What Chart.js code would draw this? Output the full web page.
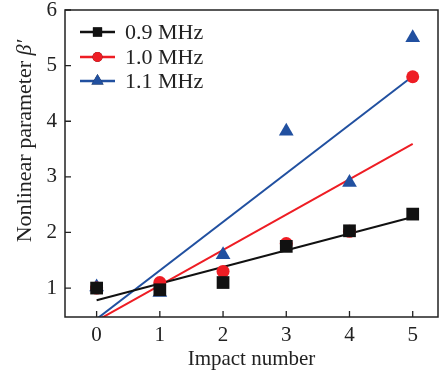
<!DOCTYPE html>
<html>
<head>
<meta charset="utf-8">
<script src="https://cdn.jsdelivr.net/npm/chart.js@4/dist/chart.umd.min.js"></script>
<style>
  html, body { margin: 0; padding: 0; background: #fff; }
  #wrap { width: 439px; height: 372px; }
</style>
</head>
<body>
<div id="wrap"><canvas id="chart"></canvas></div>
<script>
const impacts = [0, 1, 2, 3, 4, 5];
const beta09 = [1.00, 0.97, 1.10, 1.75, 2.03, 2.33];
const beta10 = [1.00, 1.10, 1.30, 1.80, 2.02, 4.80];
const beta11 = [1.02, 0.92, 1.60, 3.82, 2.90, 5.50];
const seriesLabels = ['0.9 MHz', '1.0 MHz', '1.1 MHz'];
const xTicks = [0, 1, 2, 3, 4, 5];
const yTicks = [1, 2, 3, 4, 5, 6];

const colors = ['#111111', '#ee1d24', '#2150a0'];
const shapes = ['rect', 'circle', 'triangle'];
const radii = [9, 6.5, 8.5];
const legendRadii = [6.5, 5, 7];
const FONT = '"Liberation Serif", "Times New Roman", serif';

// least-squares fit line, same as the original linear fits
function fitLine(xs, ys) {
  const n = xs.length;
  const mx = xs.reduce((a, b) => a + b, 0) / n;
  const my = ys.reduce((a, b) => a + b, 0) / n;
  let sxy = 0, sxx = 0;
  xs.forEach((x, i) => { sxy += (x - mx) * (ys[i] - my); sxx += (x - mx) * (x - mx); });
  const k = sxy / sxx, b = my - k * mx;
  return [{ x: xs[0], y: k * xs[0] + b }, { x: xs[n - 1], y: k * xs[n - 1] + b }];
}

const allSeries = [beta09, beta10, beta11];
const datasets = [];
allSeries.forEach((ys, i) => {
  datasets.push({
    label: seriesLabels[i] + ' fit',
    data: fitLine(impacts, ys),
    showLine: true,
    borderColor: colors[i],
    borderWidth: 2,
    pointRadius: 0,
    order: 2
  });
});
allSeries.forEach((ys, i) => {
  datasets.push({
    label: seriesLabels[i],
    data: impacts.map((x, j) => ({ x: x, y: ys[j] })),
    pointStyle: shapes[i],
    pointRadius: radii[i],
    backgroundColor: colors[i],
    borderColor: colors[i],
    borderWidth: 0,
    showLine: false,
    order: 1
  });
});

const extras = {
  id: 'extras',
  afterDraw(chart) {
    const c = chart.ctx;
    const a = chart.chartArea;
    const xs = chart.scales.x, ys = chart.scales.y;
    c.save();
    // frame
    c.strokeStyle = '#222';
    c.lineWidth = 1.5;
    c.strokeRect(a.left, a.top, a.right - a.left, a.bottom - a.top);
    // inward ticks
    c.lineWidth = 1.3;
    c.beginPath();
    xTicks.forEach(v => {
      const px = xs.getPixelForValue(v);
      c.moveTo(px, a.bottom); c.lineTo(px, a.bottom - 6);
    });
    yTicks.forEach(v => {
      const py = ys.getPixelForValue(v);
      c.moveTo(a.left, py); c.lineTo(a.left + 6, py);
    });
    c.stroke();

    // y title with italic beta
    c.fillStyle = '#222';
    c.translate(25, 141);
    c.rotate(-Math.PI / 2);
    c.textBaseline = 'middle';
    const part1 = 'Nonlinear parameter ';
    const part2 = 'β′';
    c.font = '22px ' + FONT;
    const w1 = c.measureText(part1).width;
    c.font = 'italic 22px ' + FONT;
    const w2 = c.measureText(part2).width;
    const start = -(w1 + w2) / 2;
    c.font = '22px ' + FONT;
    c.textAlign = 'left';
    c.fillText(part1, start, 0);
    c.font = 'italic 22px ' + FONT;
    c.fillText(part2, start + w1, 0);
    c.restore();

    // legend
    c.save();
    const rowsY = [32, 57, 81];
    seriesLabels.forEach((lab, i) => {
      const y = rowsY[i];
      c.strokeStyle = colors[i];
      c.lineWidth = 2.5;
      c.beginPath();
      c.moveTo(80, y); c.lineTo(115, y);
      c.stroke();
      Chart.helpers.drawPoint(c, {
        pointStyle: shapes[i], radius: legendRadii[i], borderWidth: 0, rotation: 0
      }, 97.5, y);
      c.fillStyle = colors[i];
      c.fill();
      c.fillStyle = '#222';
      c.font = '22px ' + FONT;
      c.textAlign = 'left';
      c.textBaseline = 'middle';
      c.fillText(lab, 125, y + 1);
    });
    c.restore();
  }
};

new Chart(document.getElementById('chart'), {
  type: 'scatter',
  data: { datasets: datasets },
  options: {
    responsive: true,
    maintainAspectRatio: false,
    animation: false,
    layout: { autoPadding: false, padding: { top: 10, right: 1, left: 0, bottom: 0 } },
    plugins: { legend: { display: false }, tooltip: { enabled: false } },
    scales: {
      x: {
        type: 'linear',
        min: -0.5,
        max: 5.4,
        afterBuildTicks: s => { s.ticks = xTicks.map(v => ({ value: v })); },
        afterFit: s => { s.height = 55; s.paddingLeft = 0; s.paddingRight = 0; },
        grid: { display: false, drawTicks: false },
        border: { display: false },
        ticks: { color: '#222', font: { family: FONT, size: 21 }, padding: 6, maxRotation: 0 },
        title: { display: true, text: 'Impact number', color: '#222', font: { family: FONT, size: 21 }, padding: { top: 0, bottom: 0 } }
      },
      y: {
        min: 0.48,
        max: 6,
        afterBuildTicks: s => { s.ticks = yTicks.map(v => ({ value: v })); },
        afterFit: s => { s.width = 65; s.paddingTop = 0; s.paddingBottom = 0; },
        grid: { display: false, drawTicks: false },
        border: { display: false },
        ticks: { color: '#222', font: { family: FONT, size: 21 }, padding: 8 }
      }
    }
  },
  plugins: [extras]
});
</script>
</body>
</html>
